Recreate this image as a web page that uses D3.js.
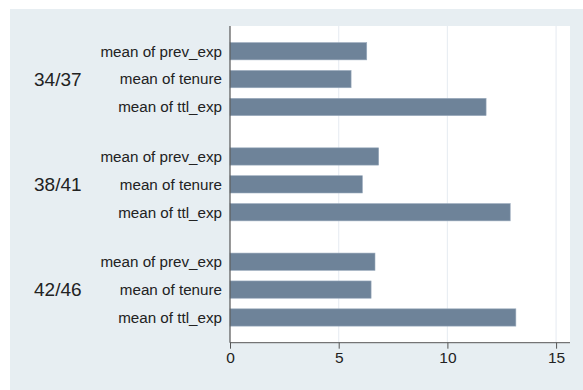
<!DOCTYPE html>
<html><head><meta charset="utf-8">
<script src="https://cdn.jsdelivr.net/npm/d3@7"></script>
<style>body{margin:0;background:#fff}svg{display:block;font-family:"Liberation Sans",Arial,Helvetica,sans-serif}</style>
</head><body>
<svg id="c" width="583" height="390"></svg>
<script>
const groups = ["34/37", "38/41", "42/46"];
const measures = ["mean of prev_exp", "mean of tenure", "mean of ttl_exp"];
const prevExp = [6.29, 6.84, 6.67];
const tenure = [5.57, 6.09, 6.49];
const ttlExp = [11.78, 12.89, 13.15];
const xTicks = [0, 5, 10, 15];

const series = [prevExp, tenure, ttlExp];
const rows = [];
groups.forEach((g, gi) => measures.forEach((m, mi) => rows.push({g, gi, m, mi, v: series[mi][gi]})));

const svg = d3.select("#c");
const W = 583, H = 390;
const plot = {l: 230, r: 570, t: 26, b: 342.7};
svg.append("rect").attr("x", 10).attr("y", 9).attr("width", W - 10).attr("height", H - 9).attr("fill", "#e7eef2");
svg.append("rect").attr("x", plot.l).attr("y", plot.t).attr("width", plot.r - plot.l).attr("height", plot.b - plot.t).attr("fill", "#fff");

const x = d3.scaleLinear().domain([0, 15.64]).range([plot.l, plot.r]);
const gapUnits = 0.775, pad = 0.905;
const slot = d => d.gi * (3 + gapUnits) + d.mi;
const lastSlot = (groups.length - 1) * (3 + gapUnits) + 2;
const y = d3.scaleLinear().domain([-pad, lastSlot + pad]).range([plot.t, plot.b]);
const unit = y(1) - y(0);
const bh = unit * 0.62;

// gridlines
svg.append("g").selectAll("line").data(xTicks.filter(t => t > 0)).join("line")
  .attr("x1", d => x(d)).attr("x2", d => x(d)).attr("y1", plot.t).attr("y2", plot.b)
  .attr("stroke", "#e9eef3").attr("stroke-width", 1.2);

// bars
svg.append("g").selectAll("rect").data(rows).join("rect")
  .attr("x", x(0)).attr("y", d => y(slot(d)) - bh / 2)
  .attr("width", d => x(d.v) - x(0)).attr("height", bh)
  .attr("fill", "#6e8399").attr("stroke", "#9aabbd").attr("stroke-width", 0.6);

// measure labels
svg.append("g").selectAll("text").data(rows).join("text")
  .attr("x", 222).attr("y", d => y(slot(d))).attr("dy", "0.35em")
  .attr("text-anchor", "end").attr("font-size", 15.2).attr("fill", "#222")
  .text(d => d.m);

// group labels
svg.append("g").selectAll("text").data(groups).join("text")
  .attr("x", 34).attr("y", (g, gi) => y(gi * (3 + gapUnits) + 1)).attr("dy", "0.35em")
  .attr("font-size", 19).attr("fill", "#222").text(d => d);

// axes
const xAxis = d3.axisBottom(x).tickValues(xTicks).tickSize(6).tickPadding(3).tickFormat(d3.format("d"));
const gx = svg.append("g").attr("transform", `translate(0,${plot.b})`).call(xAxis);
gx.select(".domain").attr("stroke", "#555").attr("d", `M${plot.l},0H${plot.r}`);
gx.selectAll(".tick line").attr("stroke", "#555");
gx.selectAll(".tick text").attr("font-size", 15.5).attr("fill", "#222").attr("font-family", "'Liberation Sans',Arial,sans-serif");

svg.append("line").attr("x1", plot.l).attr("x2", plot.l).attr("y1", plot.t).attr("y2", plot.b).attr("stroke", "#555").attr("stroke-width", 1.2);
</script>
</body></html>
